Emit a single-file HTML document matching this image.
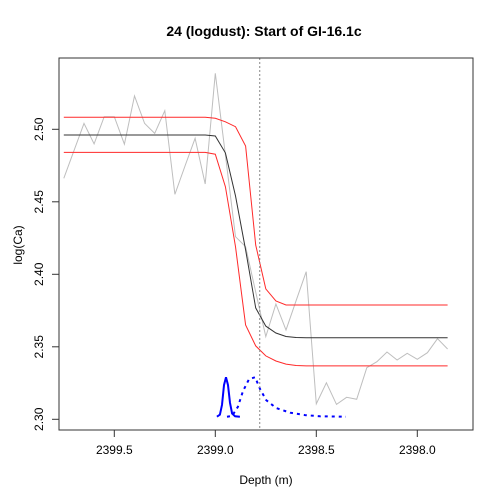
<!DOCTYPE html>
<html><head><meta charset="utf-8"><style>
body{margin:0;background:#fff}
svg{display:block;font-family:"Liberation Sans",Arial,sans-serif}
</style></head><body>
<svg id="chart" width="504" height="504" viewBox="0 0 504 504">
<text x="264" y="36" text-anchor="middle" font-size="14" font-weight="bold">24 (logdust): Start of GI-16.1c</text>
<text x="266" y="484" text-anchor="middle" font-size="12">Depth (m)</text>
<text transform="translate(22,245) rotate(-90)" text-anchor="middle" font-size="12">log(Ca)</text>
<g id="plot"></g>
</svg>
<script>
const greyDepth=[2399.75,2399.65,2399.60,2399.55,2399.50,2399.45,2399.40,2399.35,2399.30,2399.25,2399.20,2399.15,2399.10,2399.05,2399.00,2398.95,2398.90,2398.85,2398.80,2398.75,2398.70,2398.65,2398.60,2398.55,2398.50,2398.45,2398.40,2398.35,2398.30,2398.25,2398.20,2398.15,2398.10,2398.05,2398.00,2397.95,2397.90,2397.85];
const greyVal=[2.4662,2.5041,2.4899,2.5087,2.5087,2.4897,2.5230,2.5041,2.4972,2.5128,2.4552,2.4747,2.4938,2.4623,2.5386,2.4823,2.4259,2.4190,2.3878,2.3570,2.3795,2.3616,2.3818,2.4018,2.3106,2.3252,2.3103,2.3152,2.3138,2.3356,2.3397,2.3464,2.3409,2.3455,2.3414,2.3459,2.3556,2.3485];
const fitDepth=[2399.75,2399.05,2399.00,2398.95,2398.90,2398.85,2398.80,2398.75,2398.70,2398.65,2398.60,2398.55,2397.85];
const fitMid=[2.4961,2.4961,2.4954,2.4837,2.4541,2.4168,2.3768,2.3643,2.3595,2.3571,2.3564,2.3562,2.3562];
const fitUpper=[2.5083,2.5083,2.5076,2.5052,2.5018,2.4885,2.4202,2.3899,2.3816,2.3788,2.3788,2.3788,2.3788];
const fitLower=[2.4841,2.4841,2.4828,2.4604,2.4190,2.3650,2.3506,2.3437,2.3402,2.3381,2.3371,2.3368,2.3368];
const densADepth=[2398.992,2398.977,2398.967,2398.957,2398.947,2398.937,2398.927,2398.917,2398.902,2398.878];
const densA=[0,0.05,0.3,0.8,1,0.8,0.35,0.08,0.01,0];
const densBDepth=[2398.942,2398.917,2398.888,2398.863,2398.833,2398.803,2398.778,2398.748,2398.699,2398.629,2398.556,2398.482,2398.353];
const densB=[0,0.02,0.25,0.65,0.95,1,0.7,0.42,0.22,0.1,0.04,0.01,0];
const eventDepth=2398.78;
const xTicks=[2399.5,2399.0,2398.5,2398.0];
const xTickLabels=["2399.5","2399.0","2398.5","2398.0"];
const yTicks=[2.30,2.35,2.40,2.45,2.50];
const yTickLabels=["2.30","2.35","2.40","2.45","2.50"];

const L=59,R=473,T=58,B=430;
const xs=d=>114.3+(2399.5-d)*202;
const ys=v=>419.3-(v-2.30)*1450;
const densBase=2.3018, densH=0.0272;
const NS="http://www.w3.org/2000/svg";
const g=document.getElementById('plot');
function mk(t,a,p){const e=document.createElementNS(NS,t);for(const k in a)e.setAttribute(k,a[k]);(p||g).appendChild(e);return e;}
function pts(dx,vy){return dx.map((d,i)=>xs(d).toFixed(1)+","+vy(i).toFixed(1)).join(" ");}

let e;
e=mk('polyline',{points:pts(greyDepth,i=>ys(greyVal[i])),fill:'none',stroke:'#bebebe','stroke-width':1});


e=mk('polyline',{points:pts(fitDepth,i=>ys(fitUpper[i])),fill:'none',stroke:'#ff2a2a','stroke-width':1});


e=mk('polyline',{points:pts(fitDepth,i=>ys(fitLower[i])),fill:'none',stroke:'#ff2a2a','stroke-width':1});


e=mk('polyline',{points:pts(fitDepth,i=>ys(fitMid[i])),fill:'none',stroke:'#333','stroke-width':1});


e=mk('polyline',{points:pts(densADepth,i=>ys(densBase+densA[i]*densH)),fill:'none',stroke:'#0000ff','stroke-width':2});


e=mk('polyline',{points:pts(densBDepth,i=>ys(densBase+densB[i]*densH)),fill:'none',stroke:'#0000ff','stroke-width':2,'stroke-dasharray':'3,4'});


e=mk('line',{x1:xs(eventDepth),x2:xs(eventDepth),y1:T,y2:B,stroke:'#888','stroke-width':1,'stroke-dasharray':'2,2'});


e=mk('rect',{x:L,y:T,width:R-L,height:B-T,fill:'none',stroke:'#333','stroke-width':1});



xTicks.forEach((t,i)=>{const x=xs(t);
 let l=mk('line',{x1:x,x2:x,y1:B,y2:B+7,stroke:'#333'});
 
 
 let tx=mk('text',{x:x,y:B+24,'text-anchor':'middle','font-size':12});
 
 
 tx.textContent=xTickLabels[i];});
yTicks.forEach((t,i)=>{const y=ys(t);
 let l=mk('line',{x1:L-7,x2:L,y1:y,y2:y,stroke:'#333'});
 
 
 let tx=mk('text',{transform:`translate(${L-16},${y}) rotate(-90)`,'text-anchor':'middle','font-size':12});
 
 
 tx.textContent=yTickLabels[i];});
</script>
</body></html>
